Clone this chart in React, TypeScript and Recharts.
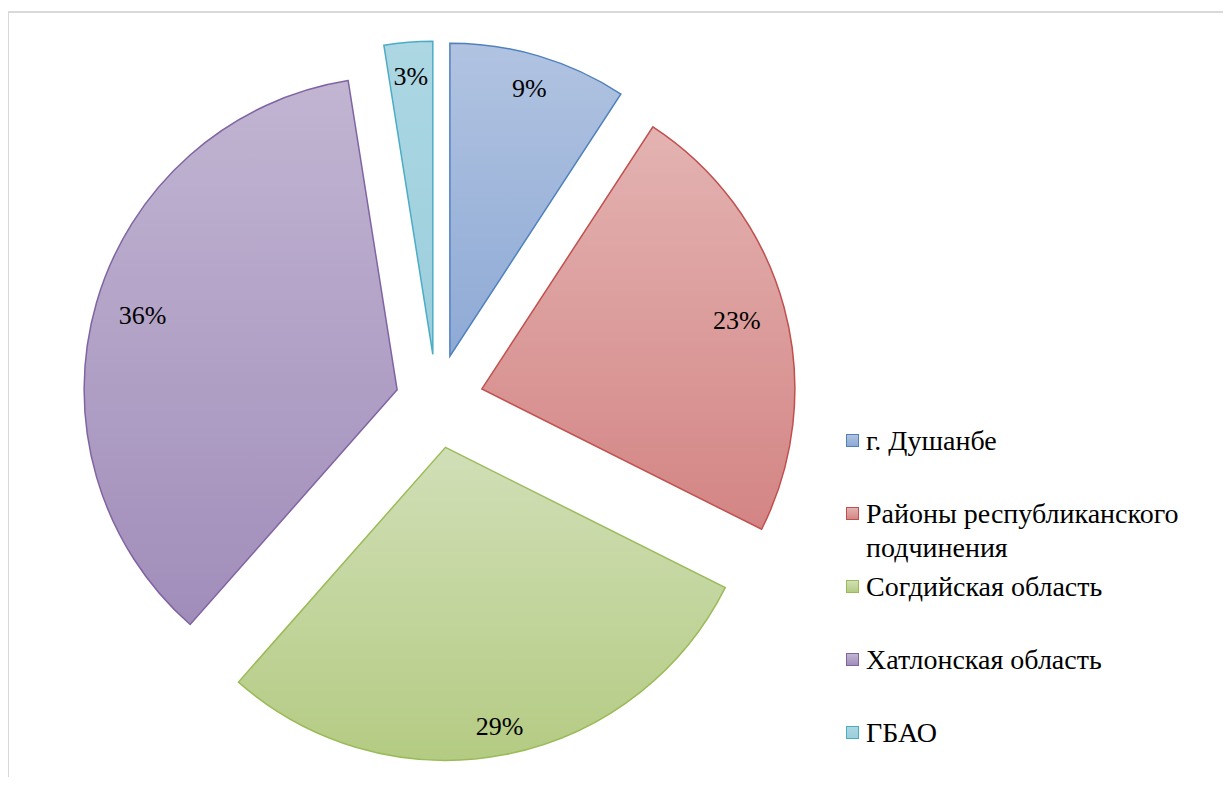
import { PieChart, Pie, Sector, Legend } from "recharts";

const regions = [
  "г. Душанбе",
  "Районы республиканского подчинения",
  "Согдийская область",
  "Хатлонская область",
  "ГБАО",
];
const shares = [9.2, 23.2, 29.1, 36.0, 2.5];

const strokeColors = ["#4f81bd", "#c0504d", "#9bbb59", "#8064a2", "#4bacc6"];
const topColors = ["#b1c3e1", "#e3b3b2", "#d1dfb7", "#c1b5d2", "#acd7e3"];
const bottomColors = ["#8eaad5", "#d38584", "#b4cb83", "#a18dba", "#9ccedc"];
const explode = [47, 47, 47, 41, 47];
const labelRadius = [279, 264, 284, 265, 279];

const data = regions.map((name, i) => ({ name, value: shares[i] }));
const RAD = Math.PI / 180;
const serif = '"Liberation Serif", "Times New Roman", Times, serif';

const renderSlice = (props: any) => {
  const { cx, cy, midAngle, outerRadius, startAngle, endAngle, percent, index } = props;
  const ux = Math.cos(-midAngle * RAD);
  const uy = Math.sin(-midAngle * RAD);
  const x0 = cx + explode[index] * ux;
  const y0 = cy + explode[index] * uy;
  const lx = x0 + labelRadius[index] * ux;
  const ly = y0 + labelRadius[index] * uy;
  return (
    <g key={`slice-${index}`}>
      <defs>
        <linearGradient id={`grad-${index}`} x1="0" y1="0" x2="0" y2="1">
          <stop offset="0%" stopColor={topColors[index]} />
          <stop offset="100%" stopColor={bottomColors[index]} />
        </linearGradient>
      </defs>
      <Sector
        cx={x0}
        cy={y0}
        innerRadius={0}
        outerRadius={outerRadius}
        startAngle={startAngle}
        endAngle={endAngle}
        fill={`url(#grad-${index})`}
        stroke={strokeColors[index]}
        strokeWidth={1.5}
      />
      <text
        className="pct"
        x={lx}
        y={ly}
        textAnchor="middle"
        dominantBaseline="central"
        fill="#000"
        fontFamily="Liberation Serif"
        fontSize={26}
      >
        {Math.round(percent * 100)}%
      </text>
    </g>
  );
};

const renderLegend = () => (
  <div style={{ position: "relative", width: 1231, height: 785 }}>
    {regions.map((name, i) => (
      <div
        key={name}
        className="leg"
        style={{
          position: "absolute",
          left: 846,
          top: 441 + 73 * i - 17,
          width: 370,
          fontSize: 28,
          lineHeight: "34px",
          color: "#000",
        }}
      >
        <span
          style={{
            position: "absolute",
            left: 0,
            top: 10,
            width: 11,
            height: 11,
            border: `1.5px solid ${strokeColors[i]}`,
            background: `linear-gradient(${topColors[i]}, ${bottomColors[i]})`,
          }}
        />
        <div style={{ marginLeft: 20, width: 340 }}>{name}</div>
      </div>
    ))}
  </div>
);

export default function App() {
  return (
    <div style={{ position: "relative", width: 1231, height: 785, margin: -8, background: "#fff" }}>
      <style>{`.leg, .leg div, text.pct { font-family: ${serif} !important; }`}</style>
      <div
        style={{
          position: "absolute",
          left: 7,
          top: 11,
          width: 1224,
          height: 774,
          borderLeft: "2px solid #d9d9d9",
          borderTop: "2px solid #d9d9d9",
        }}
      />
      <PieChart
        width={1231}
        height={785}
        margin={{ top: 0, right: 0, bottom: 0, left: 0 }}
        style={{ position: "absolute", left: 0, top: 0 }}
      >
        <Pie
          data={data}
          dataKey="value"
          nameKey="name"
          cx={436.5}
          cy={401.2}
          outerRadius={313}
          startAngle={90}
          endAngle={-270}
          fill="none"
          stroke="none"
          label={renderSlice}
          labelLine={false}
          isAnimationActive={false}
        />
        <Legend
          layout="vertical"
          align="right"
          verticalAlign="top"
          content={renderLegend}
          wrapperStyle={{ left: 0, top: 0, right: "auto", bottom: "auto", width: 1231, height: 785, pointerEvents: "none" }}
        />
      </PieChart>
    </div>
  );
}
